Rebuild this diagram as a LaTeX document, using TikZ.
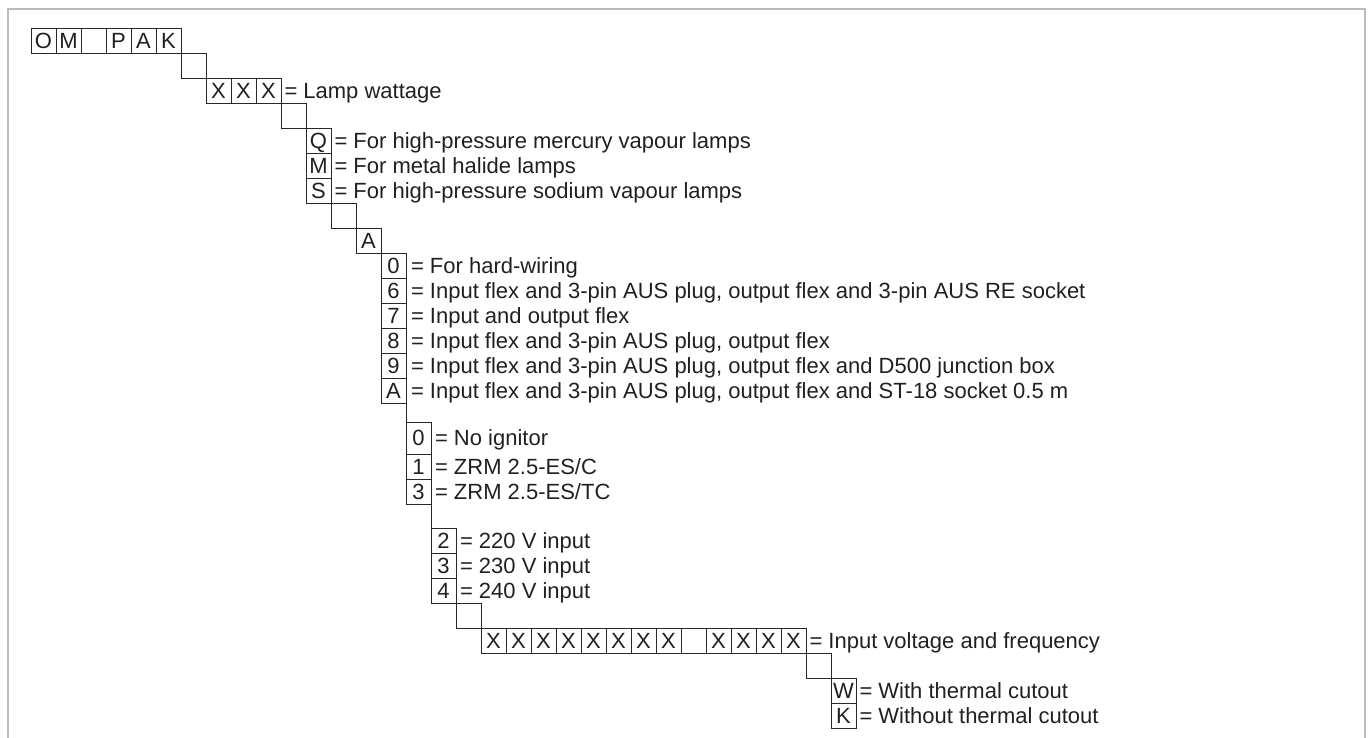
\documentclass[tikz,border=0pt]{standalone}
\usepackage{fontspec}
\setmainfont{Liberation Sans}
\definecolor{linec}{RGB}{40,40,40}
\definecolor{textc}{RGB}{35,31,32}
\definecolor{framec}{RGB}{188,188,188}
\begin{document}
\begin{tikzpicture}[x=1pt,y=1pt,
  cell/.style={draw=linec, line width=0.9pt, minimum width=25pt, minimum height=25pt,
    inner sep=0pt, outer sep=0pt, anchor=north west, text height=15.6pt, text depth=0pt,
    text=textc, font=\fontsize{22}{24}\selectfont},
  lbl/.style={anchor=base west, inner sep=0pt, outer sep=0pt, text=textc,
    font=\fontsize{22}{24}\selectfont},
  conn/.style={draw=linec, line width=0.9pt}]
\useasboundingbox (0,0) rectangle (1370,-738);
\draw[framec, line width=1.6pt] (8,-738) -- (8,-9) -- (1365,-9) -- (1365,-738);
% row 1
\node[cell] (r1a) at (31,-28) {O};
\node[cell] (r1b) at (56,-28) {M};
\node[cell] (r1c) at (81,-28) {};
\node[cell] (r1d) at (106,-28) {P};
\node[cell] (r1e) at (131,-28) {A};
\node[cell] (r1f) at (156,-28) {K};
\node[cell] (c1) at (181,-53) {};
% wattage
\node[cell] (w1) at (206,-78) {X};
\node[cell] (w2) at (231,-78) {X};
\node[cell] (w3) at (256,-78) {X};
\node[lbl] (lw) at ([xshift=3.5pt]w3.base east) {= Lamp wattage};
\node[cell] (c2) at (281,-103) {};
% lamp type
\node[cell] (tq) at (306,-128) {Q};
\node[cell] (tm) at (306,-153) {M};
\node[cell] (ts) at (306,-178) {S};
\node[lbl] (ltq) at ([xshift=3.5pt]tq.base east) {= For high-pressure mercury vapour lamps};
\node[lbl] (ltm) at ([xshift=3.5pt]tm.base east) {= For metal halide lamps};
\node[lbl] (lts) at ([xshift=3.5pt]ts.base east) {= For high-pressure sodium vapour lamps};
\node[cell] (c3) at (331,-203) {};
\node[cell] (fa) at (356,-228) {A};
% options
\node[cell] (o0) at (381,-253) {0};
\node[cell] (o6) at (381,-278) {6};
\node[cell] (o7) at (381,-303) {7};
\node[cell] (o8) at (381,-328) {8};
\node[cell] (o9) at (381,-353) {9};
\node[cell] (oA) at (381,-378) {A};
\node[lbl] (lo0) at ([xshift=5pt]o0.base east) {= For hard-wiring};
\node[lbl] (lo6) at ([xshift=5pt]o6.base east) {= Input flex and 3-pin AUS plug, output flex and 3-pin AUS RE socket};
\node[lbl] (lo7) at ([xshift=5pt]o7.base east) {= Input and output flex};
\node[lbl] (lo8) at ([xshift=5pt]o8.base east) {= Input flex and 3-pin AUS plug, output flex};
\node[lbl] (lo9) at ([xshift=5pt]o9.base east) {= Input flex and 3-pin AUS plug, output flex and D500 junction box};
\node[lbl] (loA) at ([xshift=5pt]oA.base east) {= Input flex and 3-pin AUS plug, output flex and ST-18 socket 0.5 m};
% ignitor
\node[cell, minimum height=32pt] (i0) at (406,-422) {0};
\node[cell] (i1) at (406,-454) {1};
\node[cell] (i3) at (406,-479) {3};
\draw[conn] (oA.south east) -- (i0.north west);
\node[lbl] (li0) at ([xshift=4pt]i0.base east) {= No ignitor};
\node[lbl] (li1) at ([xshift=4pt]i1.base east) {= ZRM 2.5-ES/C};
\node[lbl] (li3) at ([xshift=4pt]i3.base east) {= ZRM 2.5-ES/TC};
% voltage
\node[cell] (v2) at (431,-528) {2};
\node[cell] (v3) at (431,-553) {3};
\node[cell] (v4) at (431,-578) {4};
\draw[conn] (i3.south east) -- (v2.north west);
\node[lbl] (lv2) at ([xshift=4pt]v2.base east) {= 220 V input};
\node[lbl] (lv3) at ([xshift=4pt]v3.base east) {= 230 V input};
\node[lbl] (lv4) at ([xshift=4pt]v4.base east) {= 240 V input};
\node[cell] (c4) at (456,-603) {};
% input voltage and frequency
\node[cell] (x1) at (481,-628) {X};
\node[cell] (x2) at (506,-628) {X};
\node[cell] (x3) at (531,-628) {X};
\node[cell] (x4) at (556,-628) {X};
\node[cell] (x5) at (581,-628) {X};
\node[cell] (x6) at (606,-628) {X};
\node[cell] (x7) at (631,-628) {X};
\node[cell] (x8) at (656,-628) {X};
\node[cell] (x9) at (681,-628) {};
\node[cell] (x10) at (706,-628) {X};
\node[cell] (x11) at (731,-628) {X};
\node[cell] (x12) at (756,-628) {X};
\node[cell] (x13) at (781,-628) {X};
\node[lbl] (lx) at ([xshift=3.5pt]x13.base east) {= Input voltage and frequency};
\node[cell] (c5) at (806,-653) {};
% thermal cutout
\node[cell] (tw) at (831,-678) {W};
\node[cell] (tk) at (831,-703) {K};
\node[lbl] (ltw) at ([xshift=3.5pt]tw.base east) {= With thermal cutout};
\node[lbl] (ltk) at ([xshift=3.5pt]tk.base east) {= Without thermal cutout};
\end{tikzpicture}
\end{document}
